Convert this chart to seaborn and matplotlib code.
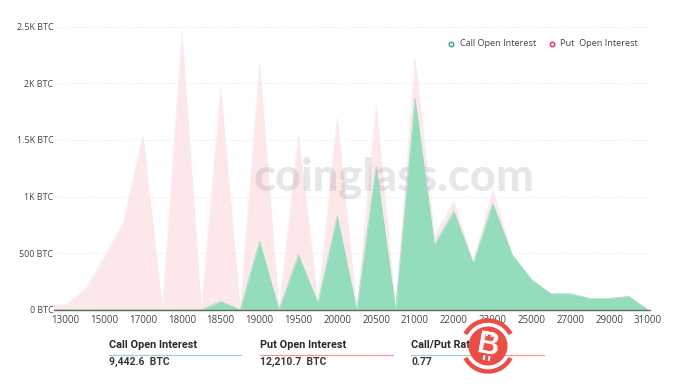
import matplotlib
matplotlib.use("Agg")
import matplotlib.pyplot as plt
import seaborn as sns
import pandas as pd
from matplotlib.patches import Circle, Arc
from matplotlib.lines import Line2D

strikes = ["", "13000", "14000", "15000", "16000", "17000", "17500", "18000", "18250", "18500", "18750",
           "19000", "19250", "19500", "19750", "20000", "20250", "20500", "20750", "21000", "21500",
           "22000", "22500", "23000", "24000", "25000", "26000", "27000", "28000", "29000", "30000", "31000"]
put_oi = [55, 44, 177, 460, 780, 1543, 0, 2456, 0, 1956, 0,
          2177, 0, 1543, 60, 1693, 0, 1808, 0, 2223, 650,
          960, 420, 1058, 490, 265, 141, 141, 100, 100, 118, 0]
call_oi = [0, 0, 0, 0, 0, 0, 0, 0, 0, 74, 0,
           604, 0, 486, 60, 827, 0, 1270, 0, 1870, 574,
           870, 412, 940, 486, 265, 141, 141, 100, 100, 118, 0]
y_ticks = [0, 500, 1000, 1500, 2000, 2500]
y_labels = ["0 BTC", "500 BTC", "1K BTC", "1.5K BTC", "2K BTC", "2.5K BTC"]
x_tick_labels = ["13000", "15000", "17000", "18000", "18500", "19000", "19500", "20000",
                 "20500", "21000", "22000", "23000", "25000", "27000", "29000", "31000"]
summary_titles = ["Call Open Interest", "Put Open Interest", "Call/Put Ratio"]
summary_values = ["9,442.6  BTC", "12,210.7  BTC", "0.77"]

GREEN = "#93dcbc"
PINK = "#fce8e9"

sns.set_theme(style="white")
plt.rcParams["font.family"] = ["Open Sans", "DejaVu Sans"]

W, H = 682, 386
fig = plt.figure(figsize=(W / 100, H / 100), dpi=100, facecolor="white")
ax = fig.add_axes([54 / W, 1 - 309.7 / H, (650 - 54) / W, (309.7 - 26.7) / H])

df = pd.DataFrame({"strike": strikes, "idx": range(-1, len(strikes) - 1), "put": put_oi, "call": call_oi})

ax.fill_between(df["idx"], 0, df["put"], color=PINK, lw=0, zorder=2)
ax.fill_between(df["idx"], 0, df["call"], color=GREEN, lw=0, zorder=3)
sns.lineplot(data=df, x="idx", y="put", color=PINK, lw=0.4, ax=ax, zorder=2, errorbar=None)
sns.lineplot(data=df, x="idx", y="call", color=GREEN, lw=0.4, ax=ax, zorder=3, errorbar=None)

ax.text(394.5 / W, 1 - 177.5 / H, "coinglass.com", fontsize=32.5, fontweight=900, color="#5a5a5a", alpha=0.14,
        ha="center", va="center", family="Lato", zorder=2.5, transform=fig.transFigure)

ax.set_xlim(-0.58, 30.1)
ax.set_ylim(0, 2500)
ax.set_xlabel("")
ax.set_ylabel("")
for s in ["top", "right", "left"]:
    ax.spines[s].set_visible(False)
ax.spines["bottom"].set_color("#666666")
ax.spines["bottom"].set_linewidth(1.0)
ax.spines["bottom"].set_zorder(5)

ax.set_yticks(y_ticks)
ax.set_yticklabels(y_labels, fontsize=6.4, color="#444444")
tick_pos = [strikes.index(t) - 1 for t in x_tick_labels]
ax.set_xticks(tick_pos)
ax.set_xticklabels(x_tick_labels, fontsize=7, color="#444444")
ax.tick_params(axis="both", length=0, pad=4)
ax.tick_params(axis="y", pad=0.5)
ax.yaxis.grid(True, color="#ececec", lw=0.7, ls=(0, (1.5, 1.5)))
ax.set_axisbelow(True)

# legend
fig.add_artist(Line2D([451 / W], [1 - 44 / H], marker="o", ms=3.2, mfc="white", mec="#2fb886", mew=1.1, ls=""))
fig.text(460 / W, 1 - 43.5 / H, "Call Open Interest", fontsize=6.55, color="#444444", va="center")
fig.add_artist(Line2D([551.5 / W], [1 - 44 / H], marker="o", ms=3.2, mfc="white", mec="#d9415f", mew=1.1, ls=""))
fig.text(560 / W, 1 - 43.5 / H, "Put  Open Interest", fontsize=6.55, color="#444444", va="center")

# summary
xs = [109, 260, 411]
for x, t, v in zip(xs, summary_titles, summary_values):
    fig.text(x / W, 1 - 345 / H, t, fontsize=7.8, fontweight="bold", color="#2a2a2a", va="center", family="Roboto")
    fig.text(x / W, 1 - 362 / H, v, fontsize=7.5, fontweight="bold", color="#3a3a3a", va="center", family="Roboto")
lines = [(109, 241, "#8fd8c4"), (260, 393, "#ef9a9a"), (411, 478, "#8fd8c4"), (478, 544, "#ef9a9a")]
for a, b, c in lines:
    fig.add_artist(Line2D([a / W, b / W], [1 - 354.5 / H] * 2, color=c, lw=0.9))

# logo overlay in pixel coordinates
ov = fig.add_axes([0, 0, 1, 1], zorder=10)
ov.set_xlim(0, W)
ov.set_ylim(H, 0)
ov.axis("off")
RED = "#ee4d44"
ov.add_patch(Circle((488, 346), 19.5, color=RED, lw=0))
ov.add_patch(Arc((488, 346), 51, 51, theta1=208, theta2=332, color=RED, lw=3.2))
ov.add_patch(Arc((488, 346), 51, 51, theta1=28, theta2=152, color=RED, lw=3.2))
ov.text(488, 346, "B", fontsize=22, fontweight="bold", family="Liberation Sans",
        color="white", ha="center", va="center", rotation=-10)
for (x0, y0, x1, y1) in [(487.5, 331, 486.7, 336), (492.5, 332, 491.7, 337), (484.5, 355, 483.7, 360), (489.5, 356, 488.7, 361)]:
    ov.plot([x0, x1], [y0, y1], color="white", lw=1.5, solid_capstyle="butt")

fig.savefig("out.png", dpi=100)
